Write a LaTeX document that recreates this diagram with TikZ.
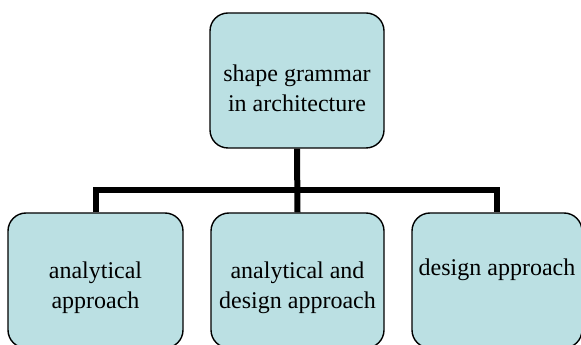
\documentclass[tikz,border=0pt]{standalone}
\usepackage{fontspec}
\setmainfont{Liberation Serif}
\usepackage{tikz}
\usetikzlibrary{positioning,calc}
\definecolor{GramFill}{HTML}{BBE0E3}
\definecolor{GramLine}{HTML}{000000}

\tikzset{
  gbox/.style={
    draw=GramLine,
    line width=1.4pt,
    rounded corners=18pt,
    fill=GramFill
  },
  gtext/.style={
    align=center,
    inner sep=0pt,
    font=\fontsize{24}{30}\selectfont
  },
  gwire/.style={
    draw=black,
    line width=6pt
  }
}

\begin{document}
\begin{tikzpicture}[x=1pt,y=1pt]
  \useasboundingbox (0,0) rectangle (581,345);

  \node[gbox, minimum width=174pt, minimum height=135pt] (top) at (297,264.5) {};
  \node[gbox, minimum width=175pt, minimum height=135pt] (left) at (95.5,64.5) {};
  \node[gbox, minimum width=173pt, minimum height=135pt] (mid) at (297.5,64.5) {};
  \node[gbox, minimum width=170pt, minimum height=135pt] (right) at (497,64.5) {};

  \node[gtext] (toptext) at ([yshift=-7.5pt]top.center) {shape grammar\\in architecture};
  \node[gtext] (lefttext) at (95.5,57) {analytical\\approach};
  \node[gtext] (midtext) at (297.5,57) {analytical and\\design approach};
  \node[gtext] (righttext) at (497,75) {design approach};

  \coordinate (bus) at (297,155);

  \draw[gwire] (top.south) -- (mid.north);
  \draw[gwire] (left.north) |- (bus) -| (right.north);

\end{tikzpicture}
\end{document}
